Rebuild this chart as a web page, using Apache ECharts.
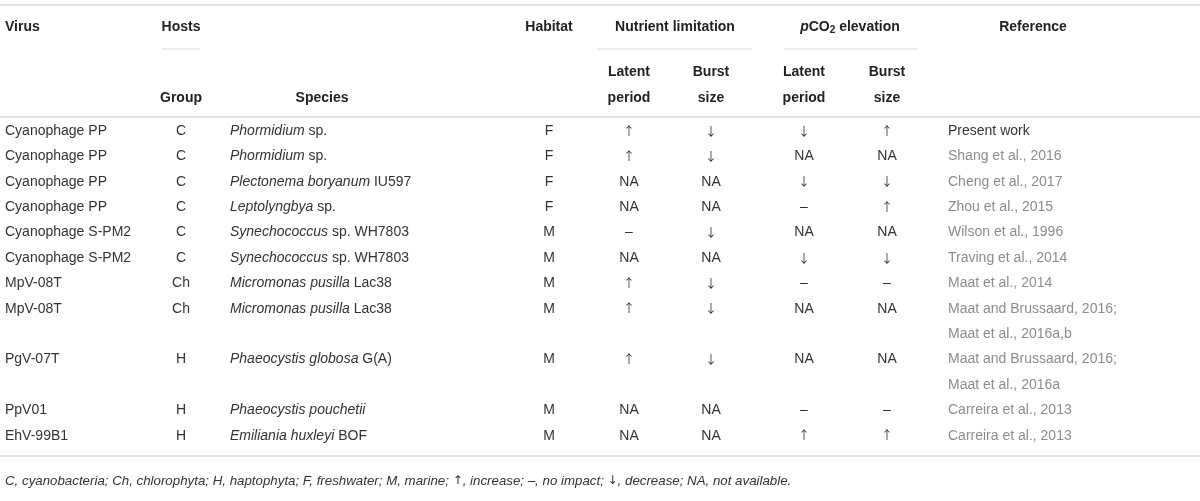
<!DOCTYPE html>
<html>
<head>
<meta charset="utf-8">
<script src="https://cdn.jsdelivr.net/npm/echarts@6/dist/echarts.min.js"></script>
<style>
  html, body { margin: 0; padding: 0; background: #fff; }
  #table01 { width: 1200px; height: 501px; }
</style>
</head>
<body>
<div id="table01"></div>
<script>
var table01 = echarts.init(document.getElementById('table01'));

// table contents, one entry per row
var virus = ['Cyanophage PP', 'Cyanophage PP', 'Cyanophage PP', 'Cyanophage PP',
    'Cyanophage S-PM2', 'Cyanophage S-PM2', 'MpV-08T', 'MpV-08T', 'PgV-07T', 'PpV01', 'EhV-99B1'];
var group = ['C', 'C', 'C', 'C', 'C', 'C', 'Ch', 'Ch', 'H', 'H', 'H'];
var speciesItalic = ['Phormidium', 'Phormidium', 'Plectonema boryanum', 'Leptolyngbya',
    'Synechococcus', 'Synechococcus', 'Micromonas pusilla', 'Micromonas pusilla',
    'Phaeocystis globosa', 'Phaeocystis pouchetii', 'Emiliania huxleyi'];
var speciesRest = [' sp.', ' sp.', ' IU597', ' sp.', ' sp. WH7803', ' sp. WH7803',
    ' Lac38', ' Lac38', ' G(A)', '', ' BOF'];
var habitat = ['F', 'F', 'F', 'F', 'M', 'M', 'M', 'M', 'M', 'M', 'M'];
var nutLatent = ['↑', '↑', 'NA', 'NA', '–', 'NA', '↑', '↑', '↑', 'NA', 'NA'];
var nutBurst = ['↓', '↓', 'NA', 'NA', '↓', 'NA', '↓', '↓', '↓', 'NA', 'NA'];
var co2Latent = ['↓', 'NA', '↓', '–', 'NA', '↓', '–', 'NA', 'NA', '–', '↑'];
var co2Burst = ['↑', 'NA', '↓', '↑', 'NA', '↓', '–', 'NA', 'NA', '–', '↑'];
var reference = [
    ['Present work'],
    ['Shang et al., 2016'],
    ['Cheng et al., 2017'],
    ['Zhou et al., 2015'],
    ['Wilson et al., 1996'],
    ['Traving et al., 2014'],
    ['Maat et al., 2014'],
    ['Maat and Brussaard, 2016;', 'Maat et al., 2016a,b'],
    ['Maat and Brussaard, 2016;', 'Maat et al., 2016a'],
    ['Carreira et al., 2013'],
    ['Carreira et al., 2013']
];
var footnote = 'C, cyanobacteria; Ch, chlorophyta; H, haptophyta; F, freshwater; M, marine; {a|↑}, increase; –, no impact; {a|↓}, decrease; NA, not available.';

// first text line of every row (rows with a two-line reference take two lines)
var rowLine = [];
var n = 0;
reference.forEach(function (r) {
    rowLine.push(n);
    n += r.length;
});
var totalLines = n;

var font = "'Liberation Sans', Arial, sans-serif";
var arrowFont = "'Noto Sans CJK SC', 'DejaVu Sans', sans-serif";
var bodyColor = '#333';
var refColor = '#8c8c8c';
var ruleColor = '#d9d9d9';

function isArrow(t) {
    return t === '↑' || t === '↓';
}

function column(name, x, align, texts, color) {
    var data = texts.map(function (t, i) { return [x, rowLine[i]]; });
    return {
        name: name,
        type: 'custom',
        silent: true,
        data: data,
        renderItem: function (params, api) {
            var p = api.coord([api.value(0), api.value(1)]);
            var t = texts[params.dataIndex];
            return {
                type: 'text',
                x: p[0],
                y: p[1],
                style: {
                    text: t,
                    align: align,
                    verticalAlign: 'middle',
                    font: isArrow(t) ? '12px ' + arrowFont : '14px ' + font,
                    fill: color || bodyColor,
                    rich: {
                        i: { fontStyle: 'italic', fontSize: 14, fontFamily: font, color: bodyColor }
                    }
                }
            };
        }
    };
}

// reference column: one point per text line
var refTexts = [];
var refData = [];
var refColors = [];
reference.forEach(function (r, i) {
    r.forEach(function (line, j) {
        refTexts.push(line);
        refData.push([948, rowLine[i] + j]);
        refColors.push(i === 0 ? bodyColor : refColor);
    });
});

var speciesTexts = speciesItalic.map(function (s, i) {
    return '{i|' + s + '}' + speciesRest[i];
});

function headText(text, x, y, align, extra) {
    var style = {
        text: text,
        x: x,
        y: y,
        align: align,
        verticalAlign: 'middle',
        font: 'bold 14px ' + font,
        fill: '#222'
    };
    if (extra) {
        for (var k in extra) style[k] = extra[k];
    }
    return { type: 'text', silent: true, style: style };
}

function rule(x1, x2, y, w) {
    return {
        type: 'line',
        silent: true,
        shape: { x1: x1, y1: y, x2: x2, y2: y },
        style: { stroke: ruleColor, lineWidth: w || 1.5 }
    };
}

var option = {
    animation: false,
    grid: { left: 0, right: 0, top: 118.3, bottom: 52.5 },
    xAxis: { type: 'value', min: 0, max: 1200, show: false },
    yAxis: { type: 'value', min: -0.5, max: totalLines - 0.5, inverse: true, show: false },
    graphic: [
        rule(0, 1200, 5),
        rule(0, 1200, 117),
        rule(0, 1200, 456),
        rule(162, 200, 49, 1.2),
        rule(597, 752, 49, 1.2),
        rule(784, 917, 49, 1.2),
        headText('Virus', 5, 27, 'left'),
        headText('Hosts', 181, 27, 'center'),
        headText('Habitat', 549, 27, 'center'),
        headText('Nutrient limitation', 675, 27, 'center'),
        headText('{p|p}CO{s|2} elevation', 850, 27, 'center', {
            rich: {
                p: { fontStyle: 'italic', fontWeight: 'bold', fontSize: 14, fontFamily: font, color: '#222' },
                s: { fontWeight: 'bold', fontSize: 10, fontFamily: font, color: '#222', padding: [7, 0, 0, 0] }
            }
        }),
        headText('Reference', 1033, 27, 'center'),
        headText('Latent', 629, 72, 'center'),
        headText('period', 629, 98, 'center'),
        headText('Burst', 711, 72, 'center'),
        headText('size', 711, 98, 'center'),
        headText('Latent', 804, 72, 'center'),
        headText('period', 804, 98, 'center'),
        headText('Burst', 887, 72, 'center'),
        headText('size', 887, 98, 'center'),
        headText('Group', 181, 98, 'center'),
        headText('Species', 322, 98, 'center'),
        {
            type: 'text',
            silent: true,
            style: {
                text: footnote,
                x: 5,
                y: 481,
                align: 'left',
                verticalAlign: 'middle',
                font: 'italic 13.3px ' + font,
                fill: bodyColor,
                rich: {
                    a: { fontSize: 12, fontFamily: "'DejaVu Sans', sans-serif", color: bodyColor }
                }
            }
        }
    ],
    series: [
        column('Virus', 5, 'left', virus),
        column('Group', 181, 'center', group),
        column('Species', 230, 'left', speciesTexts),
        column('Habitat', 549, 'center', habitat),
        column('Nutrient latent', 629, 'center', nutLatent),
        column('Nutrient burst', 711, 'center', nutBurst),
        column('pCO2 latent', 804, 'center', co2Latent),
        column('pCO2 burst', 887, 'center', co2Burst),
        {
            name: 'Reference',
            type: 'custom',
            silent: true,
            data: refData,
            renderItem: function (params, api) {
                var p = api.coord([api.value(0), api.value(1)]);
                return {
                    type: 'text',
                    x: p[0],
                    y: p[1],
                    style: {
                        text: refTexts[params.dataIndex],
                        align: 'left',
                        verticalAlign: 'middle',
                        font: '14px ' + font,
                        fill: refColors[params.dataIndex]
                    }
                };
            }
        }
    ]
};
table01.setOption(option);
window.onresize = table01.resize;
</script>
</body>
</html>
